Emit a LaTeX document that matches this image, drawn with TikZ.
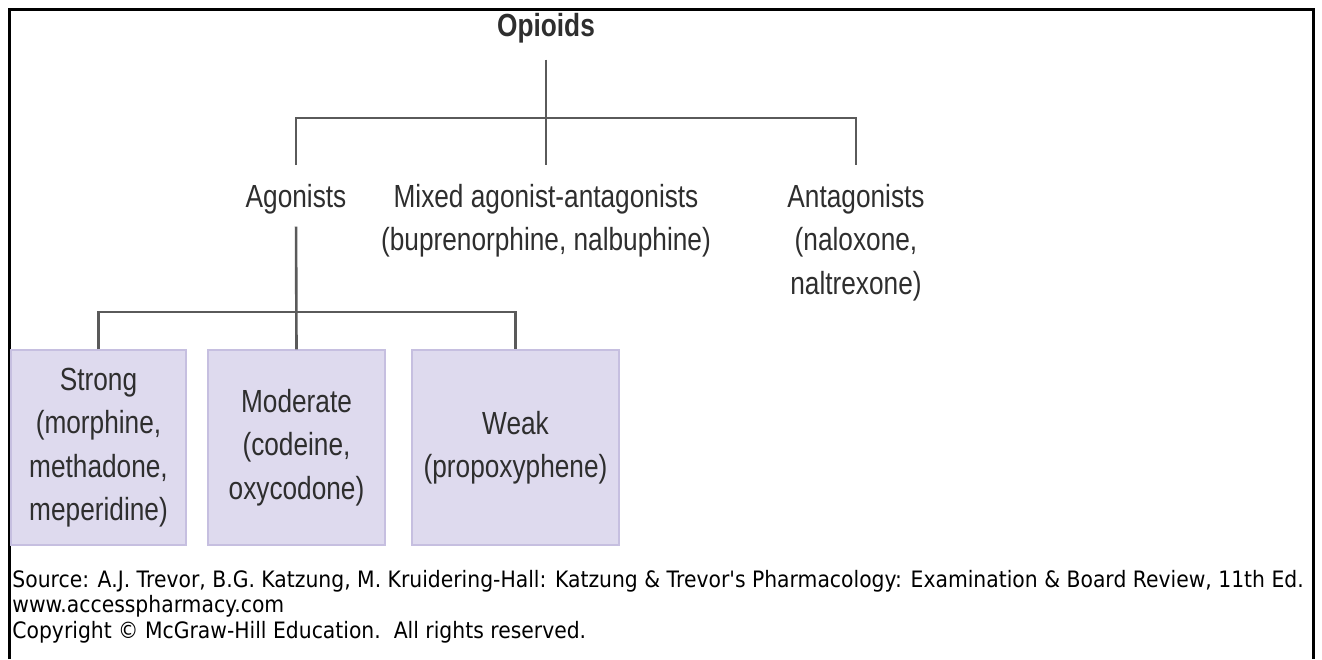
\documentclass[tikz,border=0pt]{standalone}
\usepackage{fontspec}
\setmainfont{Liberation Sans}
\newfontfamily\diagfont[FakeStretch=0.82]{Liberation Sans}
\newfontfamily\srcfont[FakeStretch=0.9]{DejaVu Sans}
\definecolor{linegray}{HTML}{5A5A5A}
\definecolor{txtgray}{HTML}{2E2E2E}
\definecolor{boxfill}{HTML}{DEDAEE}
\definecolor{boxline}{HTML}{C6BFE0}
\tikzset{
  tree/.style={draw=linegray,line width=1.3pt},
  lbl/.style={font=\diagfont\fontsize{16}{21.7}\selectfont,text=txtgray,align=center,inner sep=0pt},
  drug/.style={lbl,fill=boxfill,draw=boxline,line width=0.6pt,minimum height=97.5pt},
}
\begin{document}
\begin{tikzpicture}[x=0.5pt,y=-0.5pt]
 \useasboundingbox (0,0) rectangle (1322,659);
 \draw[line width=1.5pt] (9,659) -- (9,9) -- (1313,9) -- (1313,659);
 \node[lbl,anchor=north,font=\diagfont\bfseries\fontsize{16}{20}\selectfont] (opioids) at (546,13) {Opioids};
 \node[lbl,anchor=north] (agon) at (296,184) {Agonists};
 \node[lbl,anchor=north] (mixed) at (546,184) {Mixed agonist-antagonists\\(buprenorphine, nalbuphine)};
 \node[lbl,anchor=north] (antag) at (856,184) {Antagonists\\(naloxone,\\naltrexone)};
 \coordinate (hub) at (546,118);
 \coordinate (sub) at (296,312);
 \node[drug,minimum width=87.5pt] (strong) at (98.5,447.5) {Strong\\(morphine,\\methadone,\\meperidine)};
 \node[drug,minimum width=88.5pt] (moderate) at (296.5,447.5) {Moderate\\(codeine,\\oxycodone)};
 \node[drug,minimum width=103.5pt] (weak) at (515.5,447.5) {Weak\\(propoxyphene)};
 \draw[tree,shorten <=8pt,shorten >=9.5pt] (opioids.south) -- (mixed.north);
 \draw[tree,shorten <=9.5pt,shorten >=9.5pt] (agon.north) -- (agon.north |- hub) -- (antag.north |- hub) -- (antag.north);
 \draw[tree,shorten <=6pt] (agon.south) -- (moderate.north);
 \draw[tree] (strong.north) -- (strong.north |- sub) -- (weak.north |- sub) -- (weak.north);
 \node[anchor=north west,align=left,inner sep=0pt,font=\srcfont\fontsize{11.3}{12.65}\selectfont] (source) at (12,570)
   {Source: A.J. Trevor, B.G. Katzung, M. Kruidering-Hall: Katzung \& Trevor's Pharmacology: Examination \& Board Review, 11th Ed.\\
    www.accesspharmacy.com\\
    Copyright \textcopyright{} McGraw-Hill Education.~~All rights reserved.};
\end{tikzpicture}
\end{document}
